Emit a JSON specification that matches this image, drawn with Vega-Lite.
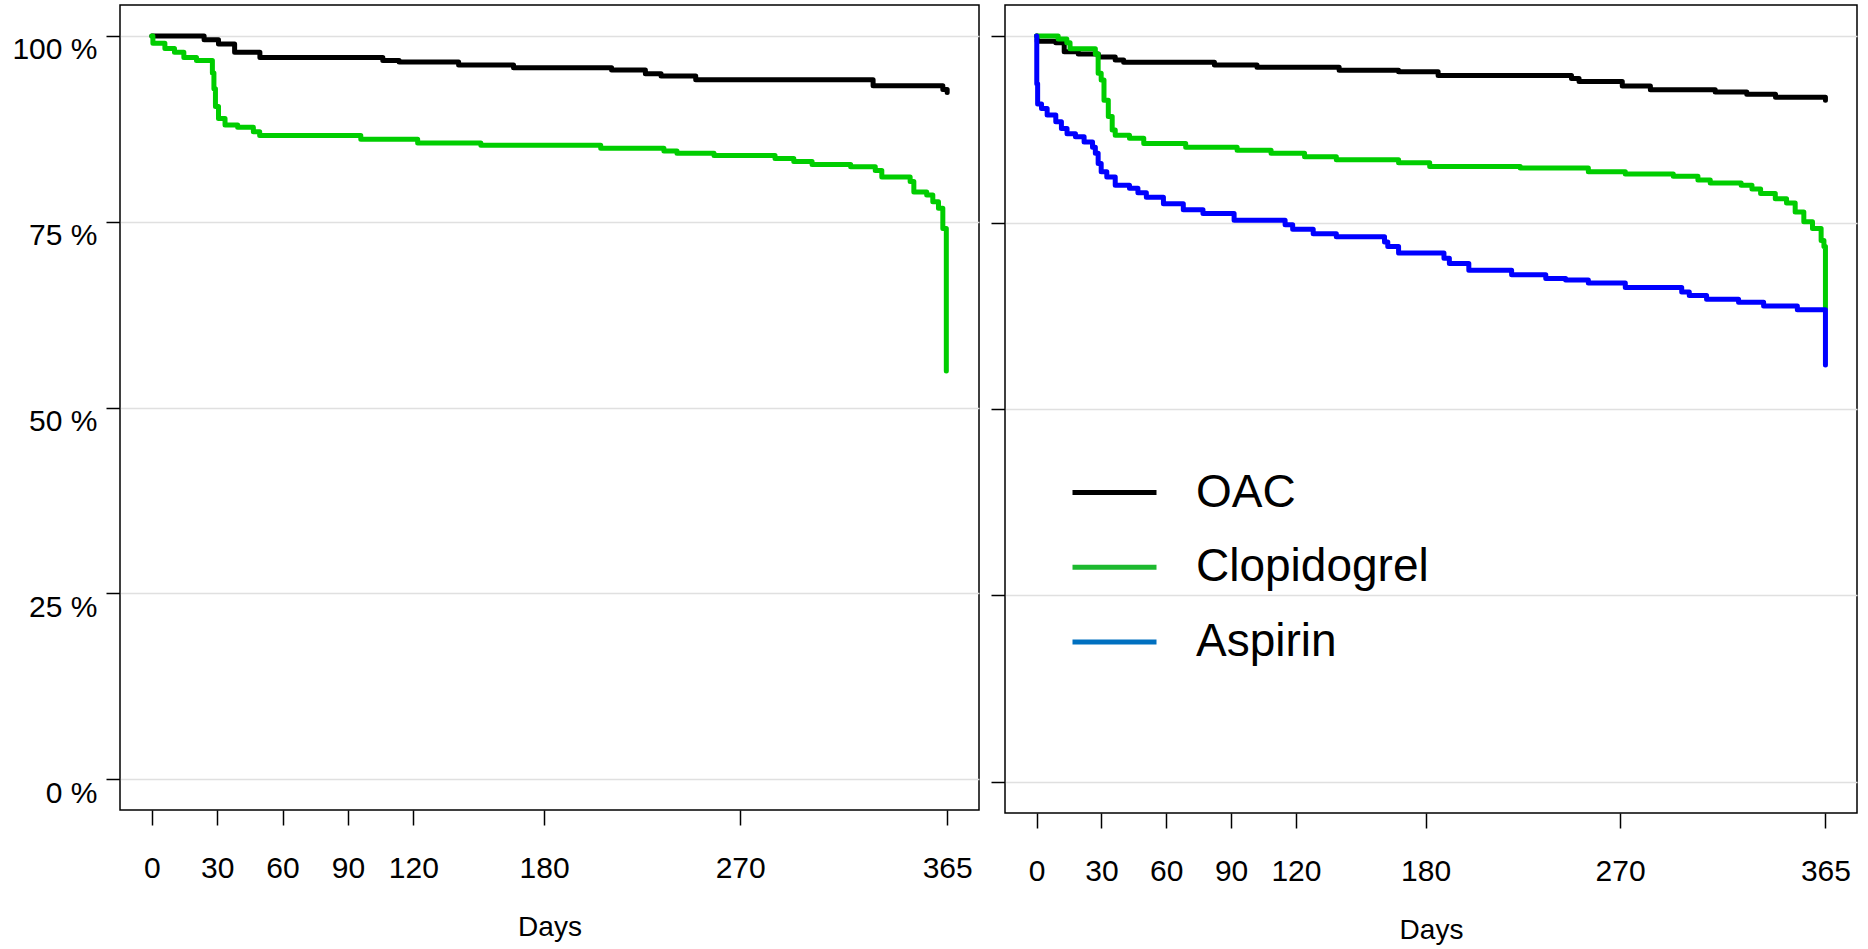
{
  "$schema": "https://vega.github.io/schema/vega-lite/v6.json",
  "padding": {"left": 11, "top": 4, "right": 0, "bottom": 0},
  "background": "white",
  "spacing": 9,
  "datasets": {
    "left": [
      {"g": "OAC", "day": 0, "s": 100},
      {"g": "OAC", "day": 24, "s": 99.5},
      {"g": "OAC", "day": 30.6, "s": 98.9},
      {"g": "OAC", "day": 38, "s": 97.8},
      {"g": "OAC", "day": 49.6, "s": 97.1},
      {"g": "OAC", "day": 106, "s": 96.7},
      {"g": "OAC", "day": 113.5, "s": 96.5},
      {"g": "OAC", "day": 140.8, "s": 96.1},
      {"g": "OAC", "day": 166, "s": 95.7},
      {"g": "OAC", "day": 211, "s": 95.4},
      {"g": "OAC", "day": 226.5, "s": 94.9},
      {"g": "OAC", "day": 233.7, "s": 94.6},
      {"g": "OAC", "day": 249.6, "s": 94.1},
      {"g": "OAC", "day": 331, "s": 93.3},
      {"g": "OAC", "day": 363, "s": 92.8},
      {"g": "OAC", "day": 365, "s": 92.4},
      {"g": "Clopidogrel", "day": 0, "s": 100},
      {"g": "Clopidogrel", "day": 0.5, "s": 99.0},
      {"g": "Clopidogrel", "day": 6, "s": 98.3},
      {"g": "Clopidogrel", "day": 10.4, "s": 97.8},
      {"g": "Clopidogrel", "day": 14.7, "s": 97.1},
      {"g": "Clopidogrel", "day": 20.5, "s": 96.7},
      {"g": "Clopidogrel", "day": 27.8, "s": 95.0},
      {"g": "Clopidogrel", "day": 28.5, "s": 92.9},
      {"g": "Clopidogrel", "day": 29.2, "s": 90.5},
      {"g": "Clopidogrel", "day": 30.6, "s": 88.9},
      {"g": "Clopidogrel", "day": 33.6, "s": 88.0},
      {"g": "Clopidogrel", "day": 39.4, "s": 87.7},
      {"g": "Clopidogrel", "day": 46.6, "s": 87.1},
      {"g": "Clopidogrel", "day": 49.5, "s": 86.6},
      {"g": "Clopidogrel", "day": 95.9, "s": 86.1},
      {"g": "Clopidogrel", "day": 122, "s": 85.6},
      {"g": "Clopidogrel", "day": 151, "s": 85.3},
      {"g": "Clopidogrel", "day": 206, "s": 84.9},
      {"g": "Clopidogrel", "day": 235, "s": 84.5},
      {"g": "Clopidogrel", "day": 241, "s": 84.2},
      {"g": "Clopidogrel", "day": 258, "s": 83.9},
      {"g": "Clopidogrel", "day": 286, "s": 83.5},
      {"g": "Clopidogrel", "day": 294.6, "s": 83.1},
      {"g": "Clopidogrel", "day": 303, "s": 82.7},
      {"g": "Clopidogrel", "day": 320.7, "s": 82.4},
      {"g": "Clopidogrel", "day": 332, "s": 81.9},
      {"g": "Clopidogrel", "day": 335, "s": 81.0},
      {"g": "Clopidogrel", "day": 348, "s": 80.4},
      {"g": "Clopidogrel", "day": 349.7, "s": 79.0},
      {"g": "Clopidogrel", "day": 355.6, "s": 78.6},
      {"g": "Clopidogrel", "day": 358.4, "s": 77.7},
      {"g": "Clopidogrel", "day": 361, "s": 76.8},
      {"g": "Clopidogrel", "day": 363, "s": 74.1},
      {"g": "Clopidogrel", "day": 364.6, "s": 54.9}
    ],
    "right": [
      {"g": "OAC", "day": 0, "s": 100},
      {"g": "OAC", "day": 0.3, "s": 99.3},
      {"g": "OAC", "day": 8.9, "s": 99.1},
      {"g": "OAC", "day": 12.8, "s": 97.9},
      {"g": "OAC", "day": 19.3, "s": 97.6},
      {"g": "OAC", "day": 28.6, "s": 97.2},
      {"g": "OAC", "day": 36.4, "s": 96.8},
      {"g": "OAC", "day": 40.3, "s": 96.5},
      {"g": "OAC", "day": 82.3, "s": 96.1},
      {"g": "OAC", "day": 102, "s": 95.8},
      {"g": "OAC", "day": 140, "s": 95.4},
      {"g": "OAC", "day": 167.5, "s": 95.2},
      {"g": "OAC", "day": 185.8, "s": 94.7},
      {"g": "OAC", "day": 247.5, "s": 94.3},
      {"g": "OAC", "day": 251, "s": 93.9},
      {"g": "OAC", "day": 271, "s": 93.3},
      {"g": "OAC", "day": 284, "s": 92.8},
      {"g": "OAC", "day": 314, "s": 92.5},
      {"g": "OAC", "day": 328.6, "s": 92.2},
      {"g": "OAC", "day": 341.9, "s": 91.8},
      {"g": "OAC", "day": 365, "s": 91.4},
      {"g": "Clopidogrel", "day": 0, "s": 100},
      {"g": "Clopidogrel", "day": 10, "s": 99.6},
      {"g": "Clopidogrel", "day": 14, "s": 99.1},
      {"g": "Clopidogrel", "day": 15.5, "s": 98.3},
      {"g": "Clopidogrel", "day": 27.2, "s": 97.6},
      {"g": "Clopidogrel", "day": 28.5, "s": 95.0},
      {"g": "Clopidogrel", "day": 29.9, "s": 94.1},
      {"g": "Clopidogrel", "day": 31.2, "s": 91.4},
      {"g": "Clopidogrel", "day": 33.2, "s": 89.2},
      {"g": "Clopidogrel", "day": 35, "s": 87.4},
      {"g": "Clopidogrel", "day": 36.4, "s": 86.7},
      {"g": "Clopidogrel", "day": 43, "s": 86.3},
      {"g": "Clopidogrel", "day": 49.6, "s": 85.6},
      {"g": "Clopidogrel", "day": 69, "s": 85.1},
      {"g": "Clopidogrel", "day": 92.8, "s": 84.7},
      {"g": "Clopidogrel", "day": 108.5, "s": 84.3},
      {"g": "Clopidogrel", "day": 124, "s": 83.8},
      {"g": "Clopidogrel", "day": 138.7, "s": 83.4},
      {"g": "Clopidogrel", "day": 167.5, "s": 83.0},
      {"g": "Clopidogrel", "day": 181.9, "s": 82.5},
      {"g": "Clopidogrel", "day": 223.8, "s": 82.3},
      {"g": "Clopidogrel", "day": 255.3, "s": 81.8},
      {"g": "Clopidogrel", "day": 272.4, "s": 81.5},
      {"g": "Clopidogrel", "day": 294.6, "s": 81.2},
      {"g": "Clopidogrel", "day": 306, "s": 80.7},
      {"g": "Clopidogrel", "day": 311.7, "s": 80.3},
      {"g": "Clopidogrel", "day": 326, "s": 80.0},
      {"g": "Clopidogrel", "day": 331, "s": 79.5},
      {"g": "Clopidogrel", "day": 335, "s": 78.9},
      {"g": "Clopidogrel", "day": 341.8, "s": 78.2},
      {"g": "Clopidogrel", "day": 347, "s": 77.6},
      {"g": "Clopidogrel", "day": 351, "s": 76.4},
      {"g": "Clopidogrel", "day": 355, "s": 75.1},
      {"g": "Clopidogrel", "day": 359, "s": 74.2},
      {"g": "Clopidogrel", "day": 363, "s": 72.6},
      {"g": "Clopidogrel", "day": 364.3, "s": 71.8},
      {"g": "Clopidogrel", "day": 365, "s": 63.5},
      {"g": "Aspirin", "day": 0, "s": 100},
      {"g": "Aspirin", "day": 0.1, "s": 93.6},
      {"g": "Aspirin", "day": 0.5, "s": 90.9},
      {"g": "Aspirin", "day": 2.3, "s": 90.3},
      {"g": "Aspirin", "day": 4.9, "s": 89.4},
      {"g": "Aspirin", "day": 8.9, "s": 88.5},
      {"g": "Aspirin", "day": 11.5, "s": 87.6},
      {"g": "Aspirin", "day": 14.1, "s": 86.9},
      {"g": "Aspirin", "day": 18, "s": 86.5},
      {"g": "Aspirin", "day": 22, "s": 85.8},
      {"g": "Aspirin", "day": 25.9, "s": 85.1},
      {"g": "Aspirin", "day": 27.2, "s": 84.3},
      {"g": "Aspirin", "day": 28.5, "s": 82.9},
      {"g": "Aspirin", "day": 29.9, "s": 81.8},
      {"g": "Aspirin", "day": 32.5, "s": 81.1},
      {"g": "Aspirin", "day": 36.4, "s": 80.0},
      {"g": "Aspirin", "day": 43, "s": 79.6},
      {"g": "Aspirin", "day": 46.9, "s": 79.0},
      {"g": "Aspirin", "day": 50.8, "s": 78.4},
      {"g": "Aspirin", "day": 58.7, "s": 77.5},
      {"g": "Aspirin", "day": 67.9, "s": 76.7},
      {"g": "Aspirin", "day": 77, "s": 76.2},
      {"g": "Aspirin", "day": 91.4, "s": 75.3},
      {"g": "Aspirin", "day": 115, "s": 74.7},
      {"g": "Aspirin", "day": 118.5, "s": 74.1},
      {"g": "Aspirin", "day": 128, "s": 73.5},
      {"g": "Aspirin", "day": 138.7, "s": 73.1},
      {"g": "Aspirin", "day": 161, "s": 72.4},
      {"g": "Aspirin", "day": 162.5, "s": 71.8},
      {"g": "Aspirin", "day": 167.5, "s": 70.9},
      {"g": "Aspirin", "day": 188.5, "s": 70.2},
      {"g": "Aspirin", "day": 191, "s": 69.5},
      {"g": "Aspirin", "day": 200, "s": 68.6},
      {"g": "Aspirin", "day": 219.8, "s": 68.0},
      {"g": "Aspirin", "day": 235.6, "s": 67.5},
      {"g": "Aspirin", "day": 244.8, "s": 67.3},
      {"g": "Aspirin", "day": 255.3, "s": 66.9},
      {"g": "Aspirin", "day": 272.4, "s": 66.3},
      {"g": "Aspirin", "day": 298.5, "s": 65.7},
      {"g": "Aspirin", "day": 302, "s": 65.2},
      {"g": "Aspirin", "day": 310, "s": 64.7},
      {"g": "Aspirin", "day": 324.8, "s": 64.3},
      {"g": "Aspirin", "day": 336.4, "s": 63.8},
      {"g": "Aspirin", "day": 352, "s": 63.3},
      {"g": "Aspirin", "day": 365, "s": 55.9}
    ]
  },
  "hconcat": [
    {
      "width": 859,
      "height": 805,
      "data": {"name": "left"},
      "mark": {"type": "line", "interpolate": "step-after", "strokeWidth": 5, "strokeCap": "round", "strokeJoin": "round"},
      "encoding": {
        "x": {"field": "day", "type": "quantitative",
              "scale": {"domain": [-14.6, 379.6], "nice": false, "zero": false},
              "axis": {"values": [0, 30, 60, 90, 120, 180, 270, 365], "title": "Days"}},
        "y": {"field": "s", "type": "quantitative",
              "scale": {"domain": [-4.16, 104.16], "nice": false, "zero": false},
              "axis": {"values": [0, 25, 50, 75, 100], "title": null, "labelExpr": "datum.value + ' %'"}},
        "color": {"field": "g", "type": "nominal",
                  "scale": {"domain": ["OAC", "Clopidogrel"], "range": ["#000000", "#00CD00"]},
                  "legend": null}
      }
    },
    {
      "width": 852,
      "height": 808,
      "data": {"name": "right"},
      "encoding": {
        "x": {"field": "day", "type": "quantitative",
              "scale": {"domain": [-14.6, 379.6], "nice": false, "zero": false},
              "axis": {"values": [0, 30, 60, 90, 120, 180, 270, 365], "title": "Days"}},
        "y": {"field": "s", "type": "quantitative",
              "scale": {"domain": [-4.16, 104.16], "nice": false, "zero": false},
              "axis": {"values": [0, 25, 50, 75, 100], "title": null, "labels": false}}
      },
      "layer": [
        {
          "mark": {"type": "line", "interpolate": "step-after", "strokeWidth": 5, "strokeCap": "round", "strokeJoin": "round"},
          "encoding": {
            "color": {"field": "g", "type": "nominal",
                      "scale": {"domain": ["OAC", "Clopidogrel", "Aspirin"], "range": ["#000000", "#00CD00", "#0000FF"]},
                      "legend": null}
          }
        },
        {
          "transform": [{"filter": "datum.day === 0"}],
          "mark": {"type": "line", "strokeWidth": 5, "strokeCap": "butt"},
          "encoding": {
            "stroke": {"field": "g", "type": "nominal",
                       "scale": {"domain": ["OAC", "Clopidogrel", "Aspirin"], "range": ["#000000", "#1DB92F", "#0070C0"]},
                       "legend": {
                         "orient": "none", "legendX": 950, "legendY": 443, "title": null,
                         "symbolType": "stroke", "symbolSize": 7056, "symbolStrokeWidth": 5,
                         "labelFont": "Liberation Sans", "labelFontSize": 46, "labelColor": "black",
                         "labelOffset": 37, "rowPadding": 6.7, "padding": 0, "labelLimit": 0
                       }}
          }
        }
      ]
    }
  ],
  "resolve": {"scale": {"color": "independent"}},
  "config": {
    "font": "Liberation Sans",
    "view": {"stroke": "black", "strokeWidth": 1.5},
    "axis": {
      "domain": false,
      "labelFont": "Liberation Sans", "labelFontSize": 30, "labelColor": "black",
      "tickColor": "black", "tickWidth": 1.5,
      "titleFont": "Liberation Sans", "titleFontSize": 28, "titleFontWeight": "normal", "titleColor": "black",
      "gridColor": "#e0e0e0", "gridWidth": 1.5
    },
    "axisX": {"grid": false, "tickSize": 15, "labelPadding": 28, "labelFlush": false, "labelOverlap": false, "titlePadding": 30},
    "axisY": {"grid": true, "tickSize": 14, "labelPadding": 9, "labelBaseline": "top", "labelOffset": -1}
  }
}
